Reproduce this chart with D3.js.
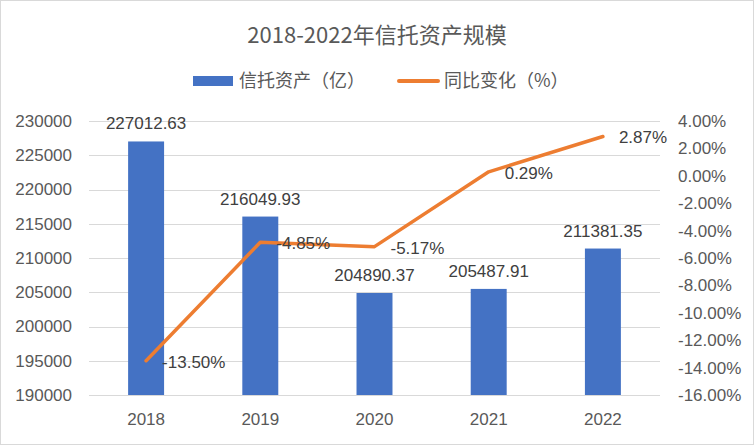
<!DOCTYPE html>
<html>
<head>
<meta charset="utf-8">
<script src="https://cdn.jsdelivr.net/npm/d3@7"></script>
<style>
  body { margin: 0; background: #fff; }
  svg text { font-family: "Liberation Sans", "Noto Sans CJK SC", sans-serif; }
</style>
</head>
<body>
<div id="chart"></div>
<script>
// 数据
var years = ['2018', '2019', '2020', '2021', '2022']
var assets = [227012.63, 216049.93, 204890.37, 205487.91, 211381.35]
var growth = [-13.50, -4.85, -5.17, 0.29, 2.87]
var leftTicks = [190000, 195000, 200000, 205000, 210000, 215000, 220000, 225000, 230000]
var rightTicks = [-16, -14, -12, -10, -8, -6, -4, -2, 0, 2, 4]

var width = 754, height = 445
var padding = {top: 121, left: 89, right: 94, bottom: 50}
var cjk = '"Noto Sans CJK SC", sans-serif'

var svg = d3.select('#chart').append('svg')
  .attr('width', width)
  .attr('height', height)

// 边框
svg.append('rect')
  .attr('x', 0.5).attr('y', 0.5)
  .attr('width', width - 1).attr('height', height - 1)
  .attr('fill', '#fff').attr('stroke', '#d9d9d9')

var x = d3.scaleBand()
  .domain(years)
  .range([padding.left, width - padding.right])
  .paddingInner(0.685)
  .paddingOuter(0.3425)
var yl = d3.scaleLinear().domain([190000, 230000]).range([height - padding.bottom, padding.top])
var yr = d3.scaleLinear().domain([-16, 4]).range([height - padding.bottom, padding.top])

// 网格线
svg.append('g').selectAll('line')
  .data(leftTicks)
  .enter()
  .append('line')
  .attr('x1', padding.left).attr('x2', width - padding.right)
  .attr('y1', function (d) { return Math.round(yl(d)) + 0.5 })
  .attr('y2', function (d) { return Math.round(yl(d)) + 0.5 })
  .attr('stroke', '#d9d9d9').attr('stroke-width', 1)

// 左轴
var gl = svg.append('g')
  .attr('transform', 'translate(' + (padding.left - 17) + ',0)')
  .call(d3.axisLeft(yl).tickValues(leftTicks).tickSize(0).tickPadding(0).tickFormat(d3.format('d')))
gl.select('.domain').remove()
gl.selectAll('text').attr('font-size', 17).attr('fill', '#595959')
  .style('font-family', '"Liberation Sans", sans-serif')

// 右轴
var gr = svg.append('g')
  .attr('transform', 'translate(' + (width - padding.right + 18) + ',0)')
  .call(d3.axisRight(yr).tickValues(rightTicks).tickSize(0).tickPadding(0)
    .tickFormat(function (d) { return d.toFixed(2) + '%' }))
gr.select('.domain').remove()
gr.selectAll('text').attr('font-size', 17).attr('fill', '#595959')
  .style('font-family', '"Liberation Sans", sans-serif')

// 下轴
var gb = svg.append('g')
  .attr('transform', 'translate(0,' + (height - padding.bottom) + ')')
  .call(d3.axisBottom(x).tickSize(0).tickPadding(18))
gb.select('.domain').remove()
gb.selectAll('text').attr('font-size', 17).attr('fill', '#595959')
  .style('font-family', '"Liberation Sans", sans-serif')

// 柱状图
svg.selectAll('rect.bar')
  .data(assets)
  .enter()
  .append('rect')
  .attr('class', 'bar')
  .attr('fill', '#4472c4')
  .attr('x', function (d, i) { return x(years[i]) })
  .attr('y', function (d) { return yl(d) })
  .attr('width', x.bandwidth())
  .attr('height', function (d) { return yl(190000) - yl(d) })

svg.selectAll('text.barlabel')
  .data(assets)
  .enter()
  .append('text')
  .attr('class', 'barlabel')
  .attr('x', function (d, i) { return x(years[i]) + x.bandwidth() / 2 })
  .attr('y', function (d) { return yl(d) - 12 })
  .attr('text-anchor', 'middle')
  .attr('font-size', 17)
  .attr('fill', '#404040')
  .text(function (d) { return d.toFixed(2) })

// 折线
var cx = function (d, i) { return x(years[i]) + x.bandwidth() / 2 }
var line = d3.line()
  .x(cx)
  .y(function (d) { return yr(d) })
svg.append('path')
  .datum(growth)
  .attr('d', line)
  .attr('fill', 'none')
  .attr('stroke', '#ed7d31')
  .attr('stroke-width', 3.5)
  .attr('stroke-linecap', 'round')
  .attr('stroke-linejoin', 'round')

svg.selectAll('text.linelabel')
  .data(growth)
  .enter()
  .append('text')
  .attr('class', 'linelabel')
  .attr('x', function (d, i) { return cx(d, i) + 16 })
  .attr('y', function (d) { return yr(d) + 7 })
  .attr('font-size', 17)
  .attr('fill', '#404040')
  .text(function (d) { return d.toFixed(2) + '%' })

// 标题
svg.append('text')
  .attr('x', 377).attr('y', 43)
  .attr('text-anchor', 'middle')
  .attr('font-size', 22)
  .attr('fill', '#595959')
  .style('font-family', cjk)
  .text('2018-2022年信托资产规模')

// 图例
svg.append('rect')
  .attr('x', 193).attr('y', 76).attr('width', 40).attr('height', 10)
  .attr('fill', '#4472c4')
svg.append('text')
  .attr('x', 239).attr('y', 87)
  .attr('font-size', 18).attr('fill', '#595959')
  .style('font-family', cjk)
  .text('信托资产（亿）')
svg.append('line')
  .attr('x1', 399).attr('x2', 438).attr('y1', 81).attr('y2', 81)
  .attr('stroke', '#ed7d31').attr('stroke-width', 4).attr('stroke-linecap', 'round')
svg.append('text')
  .attr('x', 444).attr('y', 87)
  .attr('font-size', 18).attr('fill', '#595959')
  .style('font-family', cjk)
  .text('同比变化（%）')
</script>
</body>
</html>
